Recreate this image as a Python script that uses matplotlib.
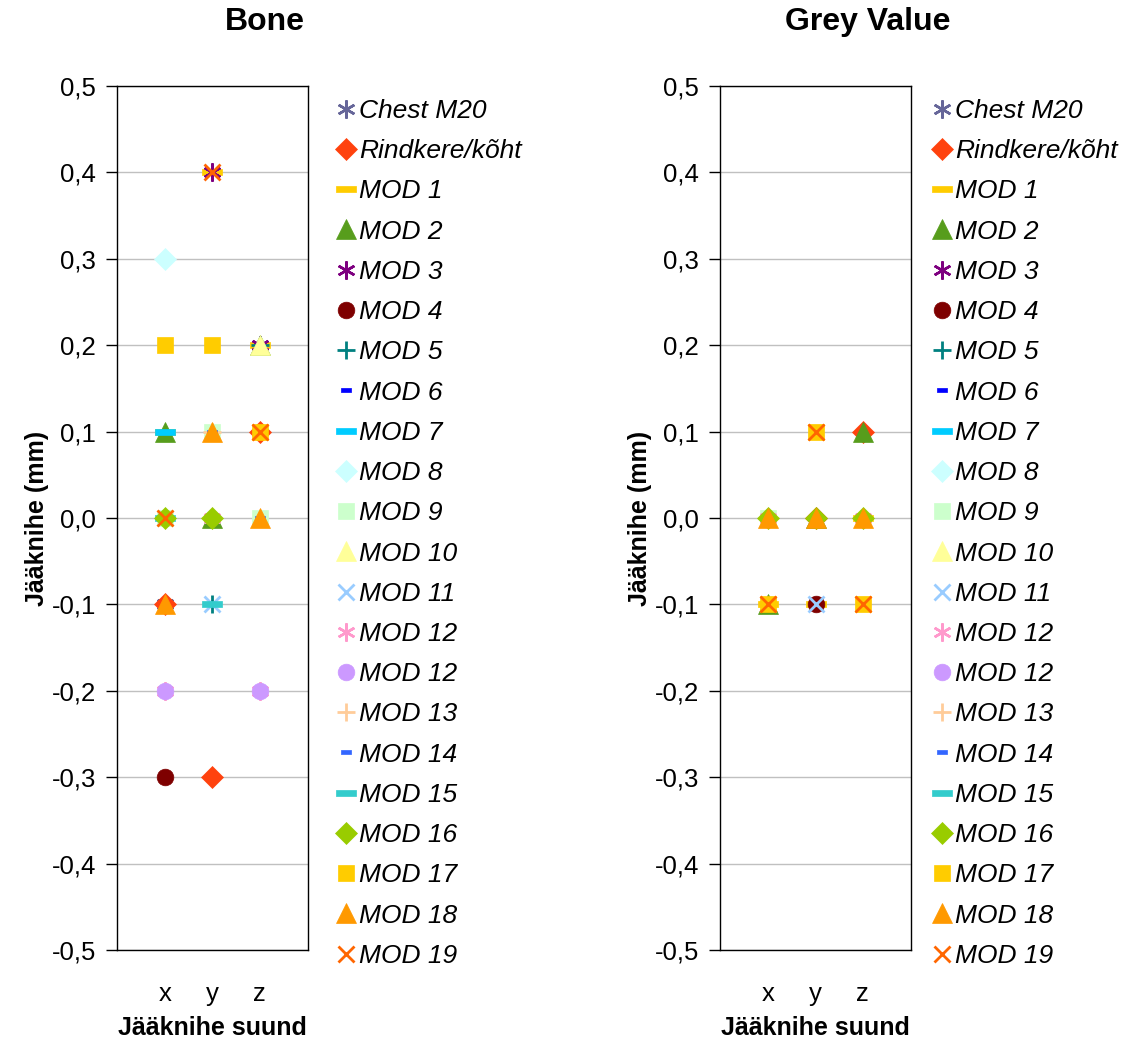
import matplotlib
matplotlib.use("Agg")
import matplotlib.pyplot as plt
from matplotlib.ticker import FuncFormatter, FixedLocator

plt.rcParams['font.family'] = ['Liberation Sans', 'DejaVu Sans']

N = float('nan')  # no point for that direction

# --- data -------------------------------------------------------------
directions = ['x', 'y', 'z']
series_names = ['Chest M20', 'Rindkere/kõht', 'MOD 1', 'MOD 2', 'MOD 3', 'MOD 4',
                'MOD 5', 'MOD 6', 'MOD 7', 'MOD 8', 'MOD 9', 'MOD 10', 'MOD 11',
                'MOD 12', 'MOD 12', 'MOD 13', 'MOD 14', 'MOD 15', 'MOD 16',
                'MOD 17', 'MOD 18', 'MOD 19']

# shift (mm) per direction x, y, z
bone_values = [
    [-0.1, N, N],       # Chest M20
    [-0.1, -0.3, 0.1],  # Rindkere/kõht
    [0.1, 0.4, 0.2],    # MOD 1
    [0.1, 0.0, 0.2],    # MOD 2
    [N, 0.4, 0.2],      # MOD 3
    [-0.3, N, N],       # MOD 4
    [N, -0.1, 0.2],     # MOD 5
    [N, 0.2, N],        # MOD 6
    [0.1, N, N],        # MOD 7
    [0.3, N, N],        # MOD 8
    [0.0, 0.1, 0.0],    # MOD 9
    [N, N, 0.2],        # MOD 10
    [N, -0.1, N],       # MOD 11
    [-0.2, 0.0, -0.2],  # MOD 12 (asterisk)
    [-0.2, N, -0.2],    # MOD 12 (circle)
    [N, 0.1, N],        # MOD 13
    [N, 0.1, 0.0],      # MOD 14
    [0.0, -0.1, N],     # MOD 15
    [0.0, 0.0, N],      # MOD 16
    [0.2, 0.2, 0.1],    # MOD 17
    [-0.1, 0.1, 0.0],   # MOD 18
    [0.0, 0.4, 0.1],    # MOD 19
]

grey_values = [
    [N, N, N],          # Chest M20
    [N, 0.0, 0.1],      # Rindkere/kõht
    [-0.1, -0.1, 0.0],  # MOD 1
    [-0.1, 0.0, 0.1],   # MOD 2
    [N, N, N],          # MOD 3
    [N, -0.1, N],       # MOD 4
    [N, N, N],          # MOD 5
    [N, N, N],          # MOD 6
    [N, N, N],          # MOD 7
    [N, N, N],          # MOD 8
    [0.0, N, N],        # MOD 9
    [N, N, N],          # MOD 10
    [N, -0.1, N],       # MOD 11
    [0.0, N, 0.0],      # MOD 12 (asterisk)
    [N, N, N],          # MOD 12 (circle)
    [N, N, N],          # MOD 13
    [N, N, N],          # MOD 14
    [N, N, N],          # MOD 15
    [0.0, 0.0, 0.0],    # MOD 16
    [-0.1, 0.1, -0.1],  # MOD 17
    [0.0, 0.0, 0.0],    # MOD 18
    [-0.1, 0.1, -0.1],  # MOD 19
]

# --- marker styles (Excel-like) ---------------------------------------
dash = [(-1, -0.32), (1, -0.32), (1, 0.32), (-1, 0.32), (-1, -0.32)]
star = (6, 2, 0)

styles = [
    dict(marker=star, color='#666699', ms=13, mew=1.8),
    dict(marker='D', color='#FF420E', ms=11),
    dict(marker=dash, color='#FFCC00', ms=15),
    dict(marker='^', color='#579D1C', ms=15),
    dict(marker=star, color='#7E0080', ms=13, mew=1.8),
    dict(marker='o', color='#7E0000', ms=12),
    dict(marker='+', color='#008080', ms=13, mew=2),
    dict(marker=dash, color='#0000FF', ms=7),
    dict(marker=dash, color='#00CCFF', ms=15),
    dict(marker='D', color='#CCFFFF', ms=11),
    dict(marker='s', color='#CCFFCC', ms=12),
    dict(marker='^', color='#FFFF99', ms=15),
    dict(marker='x', color='#99CCFF', ms=12, mew=2),
    dict(marker=star, color='#FF99CC', ms=13, mew=1.8),
    dict(marker='o', color='#CC99FF', ms=12),
    dict(marker='+', color='#FFCC99', ms=13, mew=2),
    dict(marker=dash, color='#3366FF', ms=7),
    dict(marker=dash, color='#33CCCC', ms=15),
    dict(marker='D', color='#99CC00', ms=11),
    dict(marker='s', color='#FFCC00', ms=12),
    dict(marker='^', color='#FF9900', ms=15),
    dict(marker='x', color='#FF6600', ms=12, mew=2),
]

W, H = 1135, 1039
fig = plt.figure(figsize=(W / 100, H / 100), dpi=100)


def comma_fmt(v, pos):
    return f'{v:.1f}'.replace('.', ',')


def draw_panel(left_px, values, title, legend_left_px):
    ax = fig.add_axes([left_px / W, 1 - 950 / H, 191 / W, 864 / H])
    xs = [1, 2, 3]
    handles = []
    for name, vals, st in zip(series_names, values, styles):
        kw = dict(st)
        color = kw.pop('color')
        h, = ax.plot(xs, vals, linestyle='none', marker=kw.pop('marker'),
                     markersize=kw.pop('ms'), color=color, markeredgecolor=color,
                     markeredgewidth=kw.pop('mew', 0.5), label=name, clip_on=False)
        handles.append(h)

    ax.set_xlim(-0.03, 4.03)
    ax.set_ylim(-0.5, 0.5)
    ax.yaxis.set_major_locator(FixedLocator([i / 10 for i in range(-5, 6)]))
    ax.yaxis.set_major_formatter(FuncFormatter(comma_fmt))
    ax.yaxis.grid(True, color='#C0C0C0', linewidth=1)
    ax.set_axisbelow(True)
    ax.set_xticks(xs)
    ax.set_xticklabels(directions)
    ax.tick_params(axis='x', length=0, pad=23, labelsize=18.5)
    ax.tick_params(axis='y', length=8, width=1, direction='out', pad=7, labelsize=18.5)
    for sp in ax.spines.values():
        sp.set_color('black')
        sp.set_linewidth(1)

    ax.set_ylabel('Jääknihe (mm)', fontsize=18, fontweight='bold', labelpad=2)
    ax.set_xlabel('Jääknihe suund', fontsize=18, fontweight='bold', labelpad=7)
    fig.text((left_px + 148) / W, 1 - 22 / H, title, ha='center', va='center',
             fontsize=23, fontweight='bold')

    fig.legend(handles=handles, loc='upper left',
               bbox_to_anchor=(legend_left_px / W, 1 - 99 / H),
               frameon=False, prop=dict(size=19, style='italic'),
               handlelength=0.75, handletextpad=0.12, labelspacing=0.615,
               borderpad=0, borderaxespad=0, numpoints=1, markerscale=1.0)
    return ax


draw_panel(117, bone_values, 'Bone', 336)
draw_panel(720, grey_values, 'Grey Value', 932)

fig.savefig('out.png', dpi=100, facecolor='white')
